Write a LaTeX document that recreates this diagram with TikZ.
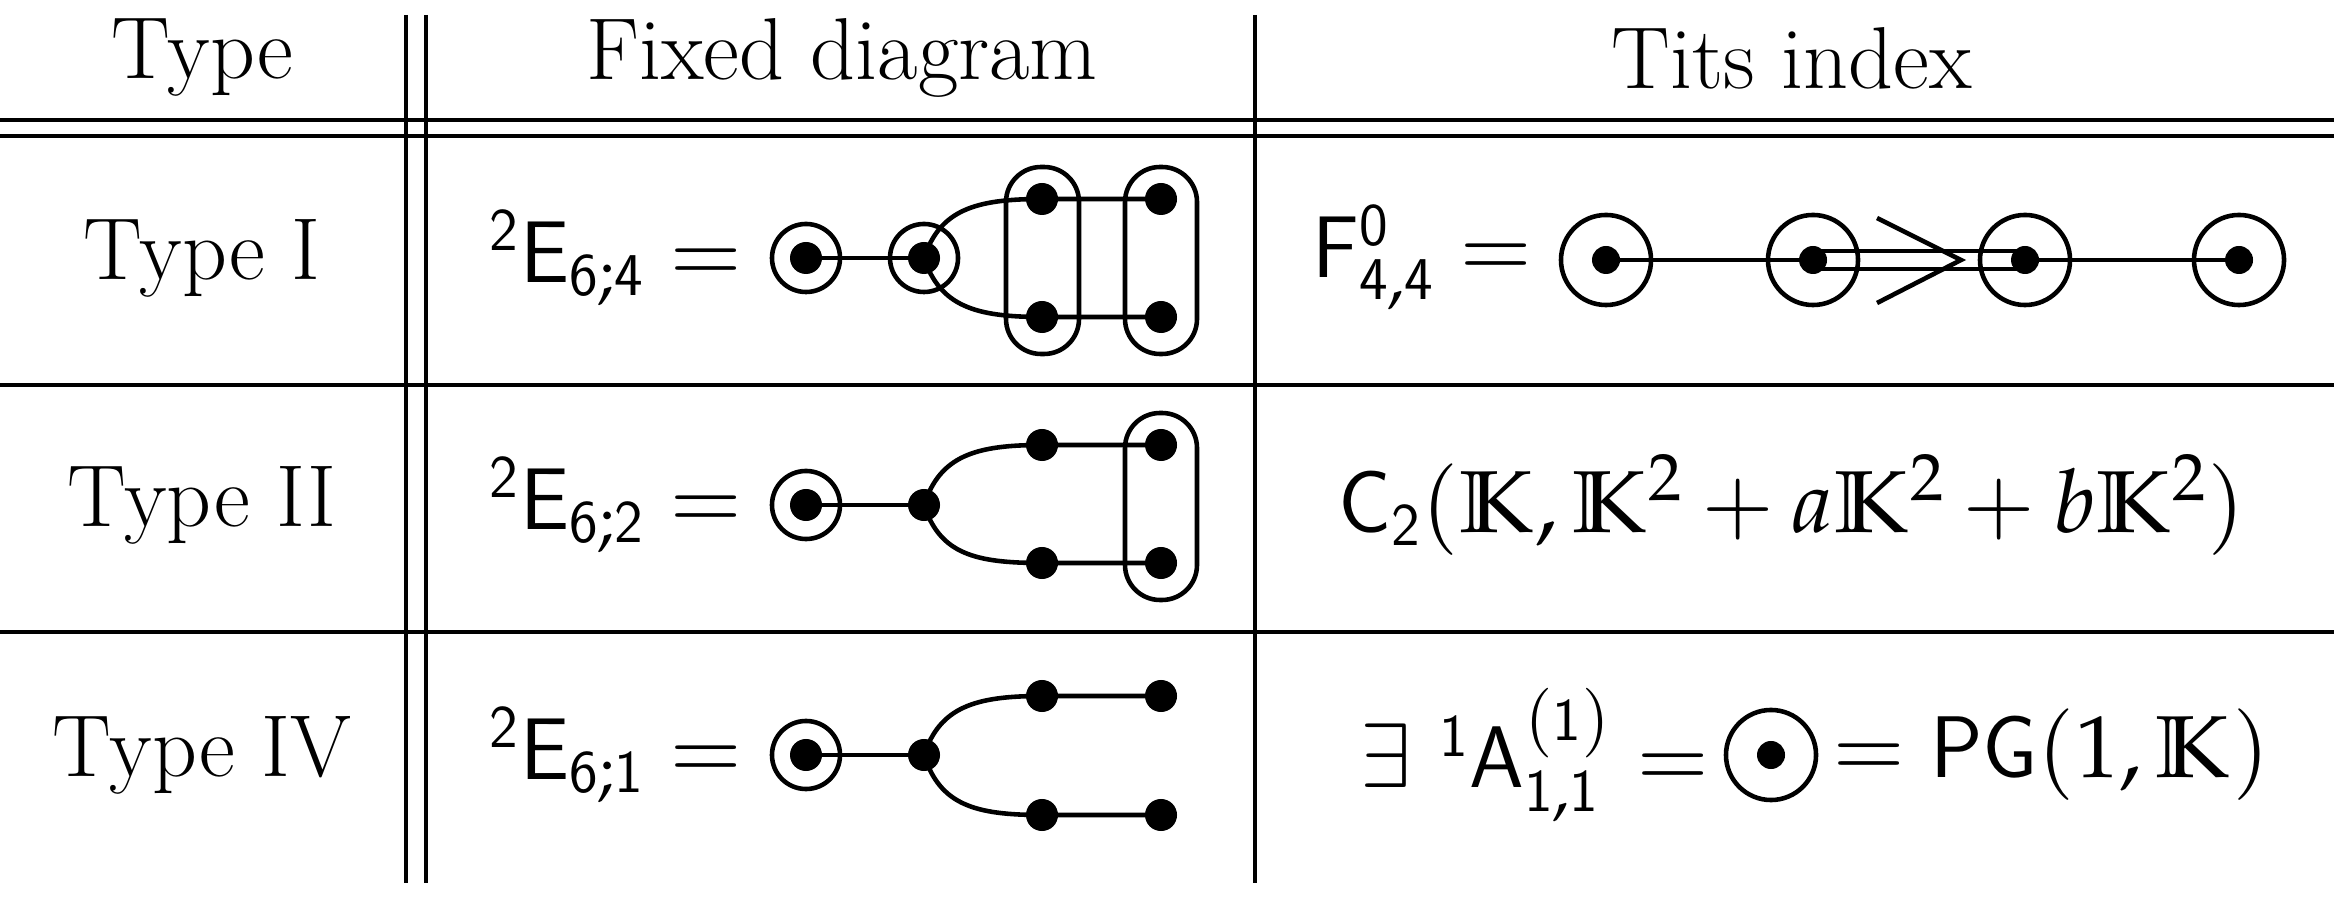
\documentclass[tikz,border=0pt]{standalone}
\usepackage{amsmath,amssymb}
\usepackage{mathpazo}
\begin{document}
\begin{tikzpicture}[x=0.01cm,y=-0.01cm,line width=1.3pt,
  txt/.style={inner sep=0,font=\fontsize{25}{30}\selectfont},
  dot/.style={circle,fill,inner sep=0,minimum size=0.32cm},
  ring/.style={circle,draw,inner sep=0,minimum size=0.68cm},
  bigring/.style={circle,draw,inner sep=0,minimum size=0.9cm},
  stad/.style={rounded corners=0.35cm}]
\useasboundingbox (0,0) rectangle (2334,904);
% table rules
\draw (0,120) -- (2334,120);
\draw (0,136) -- (2334,136);
\draw (0,385) -- (2334,385);
\draw (0,632) -- (2334,632);
\draw (406,15) -- (406,883);
\draw (426,15) -- (426,883);
\draw (1255,15) -- (1255,883);
% headers
\node[txt] (h1) at (202,58) {Type};
\node[txt] (h2) at (842,58) {Fixed diagram};
\node[txt] (h3) at (1792,58) {Tits index};
\node[txt] (t1) at (202,258) {Type I};
\node[txt] (t2) at (202,505) {Type II};
\node[txt] (t3) at (202,755) {Type IV};
% row 1: 2E6;4
\node[txt,anchor=east] (l1) at (745,258) {${}^{\mathsf{2}}\mathsf{E}_{\mathsf{6;4}} =$};
\coordinate (a1) at (806,258); \coordinate (a2) at (924,258);
\coordinate (b1) at (1042,199); \coordinate (b2) at (1161,199);
\coordinate (b3) at (1042,317); \coordinate (b4) at (1161,317);
\draw (a1) -- (a2);
\draw (a2) .. controls (940,210) and (975,199) .. (b1) -- (b2);
\draw (a2) .. controls (940,306) and (975,317) .. (b3) -- (b4);
\node[ring] (ra1) at (a1) {}; \node[ring] (ra2) at (a2) {};
\foreach \p in {a1,a2,b1,b2,b3,b4} \node[dot] (d\p) at (\p) {};
\draw[stad] (1006,167) rectangle (1079,354);
\draw[stad] (1125,167) rectangle (1197,354);
% row 2: 2E6;2
\node[txt,anchor=east] (l2) at (745,505) {${}^{\mathsf{2}}\mathsf{E}_{\mathsf{6;2}} =$};
\coordinate (c1) at (806,505); \coordinate (c2) at (924,505);
\coordinate (e1) at (1042,445); \coordinate (e2) at (1161,445);
\coordinate (e3) at (1042,563); \coordinate (e4) at (1161,563);
\draw (c1) -- (c2);
\draw (c2) .. controls (940,456) and (975,445) .. (e1) -- (e2);
\draw (c2) .. controls (940,554) and (975,563) .. (e3) -- (e4);
\node[ring] (rc1) at (c1) {};
\foreach \p in {c1,c2,e1,e2,e3,e4} \node[dot] (d\p) at (\p) {};
\draw[stad] (1125,413) rectangle (1197,600);
% row 3: 2E6;1
\node[txt,anchor=east] (l3) at (745,755) {${}^{\mathsf{2}}\mathsf{E}_{\mathsf{6;1}} =$};
\coordinate (f1) at (806,755); \coordinate (f2) at (924,755);
\coordinate (g1) at (1042,696); \coordinate (g2) at (1161,696);
\coordinate (g3) at (1042,815); \coordinate (g4) at (1161,815);
\draw (f1) -- (f2);
\draw (f2) .. controls (940,707) and (975,696) .. (g1) -- (g2);
\draw (f2) .. controls (940,805) and (975,815) .. (g3) -- (g4);
\node[ring] (rf1) at (f1) {};
\foreach \p in {f1,f2,g1,g2,g3,g4} \node[dot] (d\p) at (\p) {};
% Tits index row 1: F4,4^0
\node[txt,anchor=east] (m1) at (1535,258) {$\mathsf{F}^{\mathsf{0}}_{\mathsf{4,4}} =$};
\coordinate (k1) at (1606,260); \coordinate (k2) at (1813,260);
\coordinate (k3) at (2025,260); \coordinate (k4) at (2239,260);
\draw (k1) -- (k2);
\draw (k3) -- (k4);
\draw ([yshift=0.09cm]k2) -- ([yshift=0.09cm]k3);
\draw ([yshift=-0.09cm]k2) -- ([yshift=-0.09cm]k3);
\coordinate (tip) at (1961,260);
\draw (1877,218) -- (tip) -- (1877,303);
\foreach \p in {k1,k2,k3,k4} {\node[bigring] (r\p) at (\p) {}; \node[dot,minimum size=0.28cm] (d\p) at (\p) {};}
% row 2
\node[txt] (m2) at (1792,505) {$\mathsf{C}_{\mathsf{2}}(\mathbb{K},\mathbb{K}^2+a\mathbb{K}^2+b\mathbb{K}^2)$};
% row 3
\node[txt,anchor=east] (m3) at (1712,755) {$\exists\ {}^{\mathsf{1}}\mathsf{A}^{(\mathsf{1})}_{\mathsf{1,1}} =$};
\node[bigring] (rq) at (1771,755) {};
\node[dot,minimum size=0.28cm] (dq) at (1771,755) {};
\node[txt,anchor=west] (m4) at (1830,755) {$= \mathsf{PG}(1,\mathbb{K})$};
\end{tikzpicture}
\end{document}
